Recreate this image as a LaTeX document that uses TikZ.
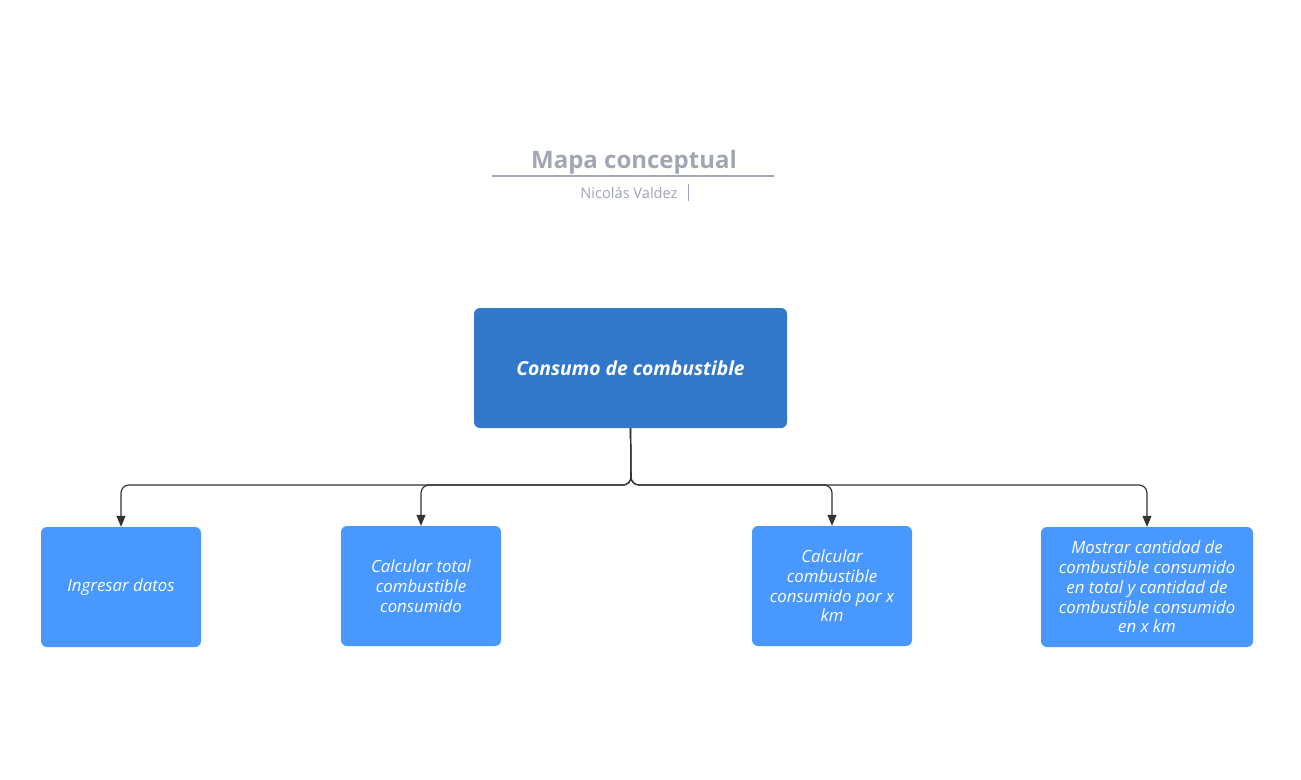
\documentclass[tikz,border=0pt]{standalone}
\usepackage{fontspec}
\setmainfont{Open Sans}
\usetikzlibrary{arrows.meta}
\definecolor{mainblue}{RGB}{50,120,202}
\definecolor{childblue}{RGB}{72,152,255}
\definecolor{titlegray}{RGB}{160,166,178}
\definecolor{linegray}{RGB}{51,51,51}
\begin{document}
\begin{tikzpicture}[x=1pt,y=-1pt]
\tikzstyle{every node}+=[inner sep=0pt]
\tikzstyle{mainbox}=[fill=mainblue,rounded corners=6pt,minimum width=313pt,minimum height=120pt,text=white,font=\fontsize{19.3}{22}\selectfont\bfseries\itshape]
\tikzstyle{childbox}=[fill=childblue,rounded corners=6pt,minimum height=120pt,text=white,align=center,font=\fontsize{16.8}{19.7}\selectfont\itshape]
\tikzstyle{conn}=[draw=linegray,line width=1.2pt,rounded corners=8pt,-{Triangle[length=11pt,width=9pt]}]
\useasboundingbox (0,0) rectangle (1301,779);
\fill[white] (0,0) rectangle (1301,779);
\node[text=titlegray,font=\fontsize{24}{28}\selectfont\bfseries] (title) at (634,162.5) {Mapa conceptual};
\draw[titlegray,line width=1.5pt] (492,176) -- (774,176);
\node[text=titlegray,font=\fontsize{14.6}{17}\selectfont] (author) at (629,193) {Nicolás Valdez};
\draw[titlegray,line width=1pt] (688,184) -- (688,201);
\node[mainbox] (main) at (630.5,368) {Consumo de combustible};
\node[childbox,minimum width=160pt] (c1) at (121,587) {Ingresar datos};
\node[childbox,minimum width=160pt] (c2) at (421,586) {Calcular total\\combustible\\consumido};
\node[childbox,minimum width=160pt] (c3) at (832,586) {Calcular\\combustible\\consumido por x\\km};
\node[childbox,minimum width=212pt] (c4) at (1147,587) {Mostrar cantidad de\\combustible consumido\\en total y cantidad de\\combustible consumido\\en x km};
\coordinate (bus) at (631,485);
\draw[conn] (main.south) -- (bus) -| (c1.north);
\draw[conn] (main.south) -- (bus) -| (c2.north);
\draw[conn] (main.south) -- (bus) -| (c3.north);
\draw[conn] (main.south) -- (bus) -| (c4.north);
\end{tikzpicture}
\end{document}
